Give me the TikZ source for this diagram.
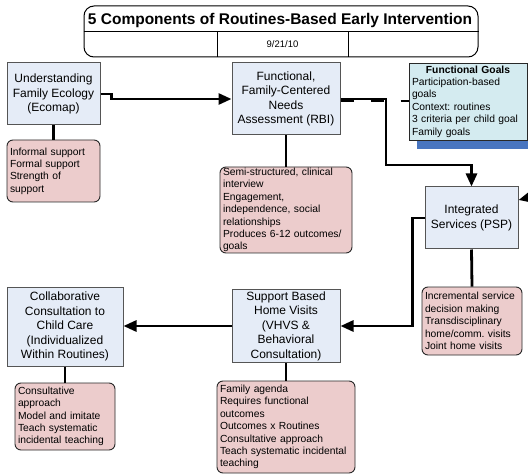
\documentclass[tikz,border=0pt]{standalone}
\usepackage{fontspec}
\setmainfont{Liberation Sans}
\usetikzlibrary{arrows.meta,shadows}
\definecolor{boxblue}{RGB}{229,236,247}
\definecolor{bordergray}{RGB}{85,85,85}
\definecolor{notepink}{RGB}{236,204,204}
\definecolor{notedark}{RGB}{40,40,40}
\definecolor{fgfill}{RGB}{212,235,240}
\definecolor{shadowblue}{RGB}{72,117,192}
\tikzset{
  mainbox/.style={draw=bordergray, line width=1pt, fill=boxblue, align=center,
    font=\frenchspacing\fontsize{12}{14.5}\selectfont, inner sep=2pt},
  notebox/.style={draw=notedark, line width=0.9pt, fill=notepink, rounded corners=6pt,
    align=left, font=\frenchspacing\fontsize{10.3}{12.35}\selectfont, inner xsep=3pt, inner ysep=1pt},
  fgbox/.style={draw=notedark, line width=0.9pt, fill=fgfill, align=left,
    font=\frenchspacing\fontsize{10.3}{12.35}\selectfont, inner xsep=3pt, inner ysep=1pt,
    drop shadow={shadow xshift=8pt, shadow yshift=-9pt, fill=shadowblue, opacity=1}},
  conn/.style={line width=2.8pt, black},
  arr/.style={conn, -{Triangle[length=13pt,width=11pt]}},
}
\begin{document}
\begin{tikzpicture}[x=1pt,y=-1pt]
\useasboundingbox (0,0) rectangle (528,476);
\clip (0,0) rectangle (528,476);
\fill[white] (0,0) rectangle (528,476);

% title block
\node[draw=black, line width=1pt, rounded corners=10pt, minimum width=394pt,
      minimum height=51pt, inner sep=0pt] (title) at (281,31.5) {};
\draw[line width=0.9pt] (title.west) -- (title.east);
\draw[line width=0.9pt] (217,31.5) -- (217,57);
\draw[line width=0.9pt] (348,31.5) -- (348,57);
\node[font=\bfseries\fontsize{15.5}{18}\selectfont] (ttl) at (280,20) {5 Components of Routines-Based Early Intervention};
\node[font=\fontsize{9.5}{11}\selectfont] (date) at (282.5,44.5) {9/21/10};

% main boxes
\node[mainbox, minimum width=93pt, minimum height=62pt] (eco) at (53.5,94)
  {Understanding\\Family Ecology\\(Ecomap)};
\node[mainbox, minimum width=108pt, minimum height=72pt] (rbi) at (286,99)
  {Functional,\\Family-Centered\\Needs\\Assessment (RBI)};
\node[mainbox, minimum width=93pt, minimum height=62pt] (isv) at (471.5,218)
  {Integrated\\Services (PSP)};
\node[mainbox, minimum width=108pt, minimum height=72pt] (sbhv) at (286,326)
  {Support Based\\Home Visits\\(VHVS \&\\Behavioral\\Consultation)};
\node[mainbox, minimum width=116pt, minimum height=79pt] (cc) at (65,326.5)
  {Collaborative\\Consultation to\\Child Care\\(Individualized\\Within Routines)};

% functional goals
\node[fgbox, minimum width=118pt, minimum height=77pt, text width=112pt] (fg) at (468,101.5)
  {\makebox[\linewidth]{\bfseries Functional Goals}\\Participation-based\\goals\\Context: routines\\3 criteria per child goal\\Family goals};

% notes
\node[notebox, minimum width=93pt, minimum height=62pt, text width=87pt] (ecoN) at (53.5,171)
  {Informal support\\Formal support\\Strength of\\support};
\node[notebox, minimum width=132pt, minimum height=86pt, text width=126pt] (rbiN) at (286,210)
  {Semi-structured, clinical\\interview\\Engagement,\\independence, social\\relationships\\Produces 6-12 outcomes/\\goals};
\node[notebox, minimum width=100pt, minimum height=68pt, text width=94pt] (isvN) at (472,321)
  {Incremental service\\decision making\\Transdisciplinary\\home/comm. visits\\Joint home visits};
\node[notebox, minimum width=138pt, minimum height=92pt, text width=132pt] (sbhvN) at (286,427)
  {Family agenda\\Requires functional\\outcomes\\Outcomes x Routines\\Consultative approach\\Teach systematic incidental\\teaching};
\node[notebox, minimum width=100pt, minimum height=67pt, text width=94pt] (ccN) at (65,416.5)
  {Consultative\\approach\\Model and imitate\\Teach systematic\\incidental teaching};

% connectors
\draw[arr] (eco.east) -- ++(11,0) |- (rbi.west);
\coordinate (bend1) at (386,165);
\draw[arr] (rbi.east) -| (bend1) -| (isv.north);
\coordinate (dA) at ([yshift=-2pt]rbi.east);
\draw[conn, dash pattern=on 13pt off 17pt] (dA) -- (dA -| fg.west);
\draw[arr] (isv.west) -- ++(-12,0) |- (sbhv.east);
\draw[arr] (sbhv.west) -- (sbhv.west -| cc.east);
\coordinate (offR) at (560,190);
\draw[arr] (offR) -- ([yshift=18pt]isv.east);

\draw[conn] (eco.south) -- (ecoN.north);
\draw[conn] (rbi.south) -- (rbiN.north);
\draw[conn] (isv.south) -- (isvN.north);
\draw[conn] (sbhv.south) -- (sbhvN.north);
\draw[conn] (cc.south) -- (ccN.north);
\end{tikzpicture}
\end{document}
